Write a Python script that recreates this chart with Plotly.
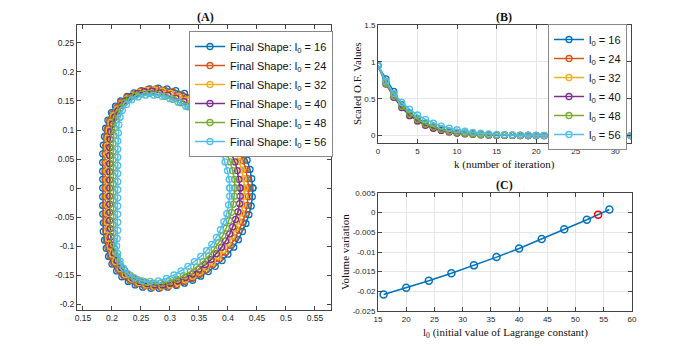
import plotly.graph_objects as go

# ---- data ----
l0_values = [16, 24, 32, 40, 48, 56]
colors = ['#0072BD', '#D95319', '#EDB120', '#7E2F8E', '#77AC30', '#4DBEEE']

# (A) final shapes, (x, y) points going counter-clockwise from the right side
shape_16 = [(0.443, 0.000), (0.441, 0.016), (0.438, 0.032), (0.433, 0.048), (0.427, 0.063), (0.420, 0.078),
            (0.412, 0.092), (0.403, 0.106), (0.392, 0.119), (0.380, 0.131), (0.367, 0.141), (0.354, 0.150),
            (0.340, 0.157), (0.325, 0.163), (0.310, 0.168), (0.295, 0.171), (0.280, 0.172), (0.265, 0.171),
            (0.251, 0.168), (0.238, 0.164), (0.226, 0.158), (0.215, 0.150), (0.206, 0.141), (0.199, 0.130),
            (0.193, 0.117), (0.189, 0.103), (0.187, 0.089), (0.185, 0.074), (0.184, 0.059), (0.184, 0.044),
            (0.184, 0.029), (0.184, 0.015), (0.184, 0.000), (0.184, -0.015), (0.184, -0.030), (0.184, -0.045),
            (0.185, -0.060), (0.185, -0.075), (0.187, -0.090), (0.190, -0.104), (0.194, -0.118), (0.200, -0.131),
            (0.208, -0.143), (0.217, -0.153), (0.228, -0.161), (0.240, -0.167), (0.253, -0.171), (0.267, -0.173),
            (0.281, -0.173), (0.296, -0.171), (0.311, -0.168), (0.325, -0.164), (0.339, -0.159), (0.353, -0.152),
            (0.366, -0.144), (0.378, -0.135), (0.390, -0.125), (0.400, -0.114), (0.410, -0.102), (0.418, -0.089),
            (0.425, -0.075), (0.431, -0.061), (0.436, -0.046), (0.440, -0.031), (0.442, -0.015), (0.443, 0.000)]
shape_24 = [(0.436, 0.000), (0.434, 0.016), (0.431, 0.032), (0.426, 0.047), (0.420, 0.062), (0.413, 0.077),
            (0.405, 0.091), (0.396, 0.104), (0.385, 0.117), (0.373, 0.129), (0.361, 0.139), (0.348, 0.148),
            (0.334, 0.155), (0.320, 0.161), (0.305, 0.166), (0.290, 0.169), (0.276, 0.171), (0.262, 0.170),
            (0.249, 0.167), (0.237, 0.162), (0.226, 0.156), (0.216, 0.148), (0.208, 0.139), (0.201, 0.128),
            (0.196, 0.116), (0.192, 0.102), (0.190, 0.088), (0.189, 0.073), (0.188, 0.059), (0.188, 0.044),
            (0.188, 0.029), (0.188, 0.015), (0.188, 0.000), (0.188, -0.015), (0.188, -0.030), (0.188, -0.045),
            (0.188, -0.059), (0.189, -0.074), (0.190, -0.089), (0.193, -0.103), (0.197, -0.117), (0.203, -0.130),
            (0.211, -0.141), (0.220, -0.151), (0.231, -0.159), (0.243, -0.165), (0.256, -0.169), (0.270, -0.171),
            (0.284, -0.171), (0.298, -0.169), (0.312, -0.166), (0.325, -0.161), (0.338, -0.156), (0.351, -0.149),
            (0.363, -0.141), (0.374, -0.132), (0.385, -0.122), (0.395, -0.111), (0.404, -0.099), (0.412, -0.086),
            (0.419, -0.073), (0.425, -0.059), (0.430, -0.045), (0.433, -0.030), (0.435, -0.015), (0.436, 0.000)]
shape_32 = [(0.429, 0.000), (0.427, 0.016), (0.424, 0.031), (0.419, 0.046), (0.413, 0.061), (0.406, 0.075),
            (0.398, 0.089), (0.389, 0.102), (0.378, 0.114), (0.367, 0.126), (0.355, 0.136), (0.342, 0.145),
            (0.329, 0.152), (0.315, 0.158), (0.301, 0.163), (0.287, 0.167), (0.273, 0.169), (0.259, 0.168),
            (0.247, 0.165), (0.236, 0.160), (0.226, 0.153), (0.217, 0.145), (0.209, 0.136), (0.203, 0.125),
            (0.198, 0.113), (0.195, 0.100), (0.193, 0.086), (0.192, 0.072), (0.192, 0.058), (0.192, 0.043),
            (0.192, 0.029), (0.192, 0.014), (0.192, 0.000), (0.192, -0.014), (0.192, -0.029), (0.192, -0.043),
            (0.192, -0.058), (0.193, -0.072), (0.194, -0.087), (0.197, -0.101), (0.201, -0.114), (0.206, -0.127),
            (0.214, -0.139), (0.223, -0.149), (0.234, -0.157), (0.246, -0.163), (0.259, -0.167), (0.272, -0.169),
            (0.286, -0.169), (0.300, -0.167), (0.313, -0.163), (0.326, -0.158), (0.339, -0.152), (0.351, -0.145),
            (0.362, -0.137), (0.373, -0.128), (0.383, -0.118), (0.392, -0.107), (0.400, -0.095), (0.407, -0.083),
            (0.413, -0.070), (0.418, -0.057), (0.423, -0.043), (0.426, -0.029), (0.428, -0.014), (0.429, 0.000)]
shape_40 = [(0.421, 0.000), (0.419, 0.015), (0.416, 0.030), (0.412, 0.045), (0.406, 0.060), (0.399, 0.074),
            (0.391, 0.088), (0.382, 0.100), (0.372, 0.112), (0.361, 0.123), (0.349, 0.133), (0.337, 0.142),
            (0.324, 0.149), (0.310, 0.155), (0.296, 0.160), (0.282, 0.164), (0.269, 0.167), (0.256, 0.166),
            (0.244, 0.163), (0.234, 0.158), (0.225, 0.151), (0.217, 0.143), (0.210, 0.133), (0.205, 0.122),
            (0.201, 0.110), (0.198, 0.097), (0.197, 0.084), (0.196, 0.070), (0.196, 0.056), (0.196, 0.042),
            (0.196, 0.028), (0.196, 0.014), (0.196, 0.000), (0.196, -0.014), (0.196, -0.028), (0.196, -0.042),
            (0.196, -0.056), (0.197, -0.070), (0.198, -0.084), (0.200, -0.098), (0.204, -0.112), (0.209, -0.125),
            (0.216, -0.137), (0.225, -0.147), (0.236, -0.155), (0.248, -0.161), (0.261, -0.165), (0.274, -0.167),
            (0.288, -0.167), (0.301, -0.164), (0.314, -0.160), (0.327, -0.154), (0.339, -0.148), (0.350, -0.140),
            (0.361, -0.132), (0.371, -0.123), (0.380, -0.113), (0.389, -0.102), (0.396, -0.091), (0.403, -0.079),
            (0.408, -0.067), (0.413, -0.054), (0.417, -0.041), (0.420, -0.027), (0.421, -0.014), (0.421, 0.000)]
shape_48 = [(0.412, 0.000), (0.411, 0.015), (0.408, 0.030), (0.404, 0.045), (0.398, 0.059), (0.392, 0.073),
            (0.384, 0.087), (0.375, 0.099), (0.365, 0.111), (0.355, 0.122), (0.344, 0.132), (0.331, 0.140),
            (0.318, 0.147), (0.305, 0.153), (0.291, 0.158), (0.278, 0.161), (0.264, 0.163), (0.251, 0.162),
            (0.240, 0.159), (0.230, 0.154), (0.222, 0.147), (0.215, 0.138), (0.210, 0.128), (0.206, 0.117),
            (0.204, 0.104), (0.203, 0.091), (0.202, 0.077), (0.202, 0.063), (0.202, 0.049), (0.202, 0.035),
            (0.202, 0.021), (0.202, 0.007), (0.202, -0.007), (0.202, -0.021), (0.202, -0.035), (0.202, -0.049),
            (0.202, -0.063), (0.202, -0.077), (0.203, -0.091), (0.205, -0.105), (0.209, -0.118), (0.214, -0.131),
            (0.222, -0.142), (0.232, -0.151), (0.244, -0.158), (0.257, -0.162), (0.270, -0.164), (0.284, -0.164),
            (0.298, -0.161), (0.311, -0.157), (0.323, -0.151), (0.335, -0.144), (0.346, -0.136), (0.357, -0.127),
            (0.367, -0.117), (0.376, -0.106), (0.384, -0.094), (0.391, -0.082), (0.397, -0.069), (0.402, -0.056),
            (0.406, -0.042), (0.409, -0.028), (0.411, -0.014), (0.412, 0.000)]
shape_56 = [(0.403, 0.000), (0.402, 0.015), (0.399, 0.030), (0.395, 0.045), (0.390, 0.059), (0.384, 0.073),
            (0.377, 0.086), (0.369, 0.099), (0.360, 0.111), (0.350, 0.122), (0.339, 0.132), (0.327, 0.141),
            (0.314, 0.148), (0.300, 0.154), (0.286, 0.158), (0.272, 0.160), (0.258, 0.160), (0.245, 0.157),
            (0.234, 0.152), (0.225, 0.144), (0.218, 0.134), (0.214, 0.122), (0.212, 0.109), (0.211, 0.095),
            (0.210, 0.081), (0.210, 0.067), (0.210, 0.053), (0.210, 0.039), (0.210, 0.025), (0.210, 0.011),
            (0.210, -0.003), (0.210, -0.017), (0.210, -0.031), (0.210, -0.045), (0.210, -0.059), (0.210, -0.073),
            (0.209, -0.087), (0.208, -0.100), (0.210, -0.113), (0.214, -0.126), (0.220, -0.138), (0.228, -0.148),
            (0.239, -0.155), (0.252, -0.160), (0.266, -0.161), (0.280, -0.160), (0.294, -0.156), (0.307, -0.150),
            (0.319, -0.143), (0.331, -0.135), (0.342, -0.127), (0.353, -0.118), (0.363, -0.108), (0.372, -0.097),
            (0.380, -0.085), (0.387, -0.072), (0.393, -0.058), (0.398, -0.044), (0.401, -0.029), (0.403, -0.014),
            (0.403, 0.000)]
shapes = [shape_16, shape_24, shape_32, shape_40, shape_48, shape_56]

# (B) scaled objective function values per iteration k = 0..32
k_iter = list(range(33))
of_16 = [0.95, 0.77, 0.60, 0.42, 0.31, 0.23, 0.17, 0.12, 0.09, 0.062, 0.045, 0.032, 0.023, 0.016, 0.011, 0.008,
         0.006, 0.004, 0.003, 0.002, 0.0015, 0.001, 0.001, 0.0008, 0.0006, 0.0005, 0.0004, 0.0003, 0.0003, 0.0002,
         0.0002, 0.0001, 0.0001]
of_24 = [0.95, 0.73, 0.56, 0.40, 0.29, 0.21, 0.15, 0.11, 0.08, 0.055, 0.040, 0.028, 0.020, 0.014, 0.010, 0.007,
         0.005, 0.003, 0.002, 0.002, 0.001, 0.001, 0.0008, 0.0006, 0.0005, 0.0004, 0.0003, 0.0002, 0.0002, 0.0002,
         0.0001, 0.0001, 0.0001]
of_32 = [0.95, 0.72, 0.54, 0.39, 0.28, 0.20, 0.145, 0.10, 0.075, 0.052, 0.036, 0.026, 0.018, 0.013, 0.009, 0.006,
         0.004, 0.003, 0.002, 0.0015, 0.001, 0.0008, 0.0006, 0.0005, 0.0004, 0.0003, 0.0002, 0.0002, 0.0001, 0.0001,
         0.0001, 0.0001, 0.0001]
of_40 = [0.95, 0.70, 0.52, 0.38, 0.27, 0.20, 0.14, 0.10, 0.07, 0.050, 0.035, 0.025, 0.018, 0.012, 0.009, 0.006,
         0.004, 0.003, 0.002, 0.0015, 0.001, 0.0008, 0.0006, 0.0005, 0.0004, 0.0003, 0.0002, 0.0002, 0.0001, 0.0001,
         0.0001, 0.0001, 0.0001]
of_48 = [0.95, 0.71, 0.54, 0.40, 0.30, 0.22, 0.16, 0.12, 0.085, 0.060, 0.045, 0.032, 0.023, 0.016, 0.011, 0.008,
         0.006, 0.004, 0.003, 0.002, 0.0015, 0.001, 0.0008, 0.0006, 0.0005, 0.0004, 0.0003, 0.0002, 0.0002, 0.0001,
         0.0001, 0.0001, 0.0001]
of_56 = [0.95, 0.74, 0.57, 0.45, 0.36, 0.28, 0.22, 0.17, 0.13, 0.10, 0.08, 0.06, 0.045, 0.034, 0.025, 0.018,
         0.013, 0.010, 0.007, 0.005, 0.004, 0.003, 0.002, 0.0015, 0.001, 0.001, 0.0008, 0.0006, 0.0005, 0.0004,
         0.0003, 0.0002, 0.0002]
of_series = [of_16, of_24, of_32, of_40, of_48, of_56]

# (C) volume variation vs l0
l0_scan = [16, 20, 24, 28, 32, 36, 40, 44, 48, 52, 56]
vol_var = [-0.0208, -0.0191, -0.0173, -0.0154, -0.0134, -0.0113, -0.0091, -0.0067, -0.0042, -0.0018, 0.0008]
l0_best = [54]
vol_best = [-0.0005]

# tick labels
a_xticks = [0.15, 0.2, 0.25, 0.3, 0.35, 0.4, 0.45, 0.5, 0.55]
a_xtext = ['0.15', '0.2', '0.25', '0.3', '0.35', '0.4', '0.45', '0.5', '0.55']
a_yticks = [-0.2, -0.15, -0.1, -0.05, 0, 0.05, 0.1, 0.15, 0.2, 0.25]
a_ytext = ['-0.2', '-0.15', '-0.1', '-0.05', '0', '0.05', '0.1', '0.15', '0.2', '0.25']
c_yticks = [-0.025, -0.02, -0.015, -0.01, -0.005, 0, 0.005]
c_ytext = ['-0.025', '-0.02', '-0.015', '-0.01', '-0.005', '0', '0.005']

# the page body keeps its default 8px margin, so the figure is sized to fit inside it
OFF = 8
W, H = 698 - 2 * OFF, 349 - 2 * OFF
SANS = 'Liberation Sans, Arial, sans-serif'
SERIF = 'Liberation Serif, Times New Roman, serif'
AX = '#444444'

fig = go.Figure()

for l0, pts, c in zip(l0_values, shapes, colors):
    xs = [p[0] for p in pts]
    ys = [p[1] for p in pts]
    fig.add_trace(go.Scatter(x=xs, y=ys, mode='lines+markers', xaxis='x', yaxis='y',
                             name=f'Final Shape: l<sub>0</sub> = {l0}', legend='legend',
                             line=dict(color=c, width=1.5),
                             marker=dict(symbol='circle-open', size=6, color=c, line=dict(width=1.3))))

for l0, vals, c in zip(l0_values, of_series, colors):
    fig.add_trace(go.Scatter(x=k_iter, y=vals, mode='lines+markers', xaxis='x2', yaxis='y2',
                             name=f'l<sub>0</sub> = {l0}', legend='legend2',
                             line=dict(color=c, width=1.5),
                             marker=dict(symbol='circle-open', size=6, color=c, line=dict(width=1.3))))

fig.add_trace(go.Scatter(x=l0_scan, y=vol_var, mode='lines+markers', xaxis='x3', yaxis='y3',
                         showlegend=False, line=dict(color=colors[0], width=1.5),
                         marker=dict(symbol='circle-open', size=7, color=colors[0], line=dict(width=1.5))))
fig.add_trace(go.Scatter(x=l0_best, y=vol_best, mode='markers', xaxis='x3', yaxis='y3',
                         showlegend=False,
                         marker=dict(symbol='circle-open', size=7, color='#FF0000', line=dict(width=1.5))))


def fx(px):
    return (px - OFF) / W


def fy(py):
    return 1 - (py - OFF) / H


base_axis = dict(showline=True, mirror='ticks', linecolor=AX, linewidth=1, ticks='inside',
                 ticklen=4, tickcolor=AX, tickfont=dict(family=SANS, size=8, color='#262626'),
                 zeroline=False, automargin=False)

fig.update_layout(
    width=W, height=H, margin=dict(l=0, r=0, t=0, b=0, autoexpand=False),
    paper_bgcolor='white', plot_bgcolor='white',
    xaxis=dict(base_axis, domain=[fx(77), fx(331)], range=[0.1397, 0.5776], anchor='y',
               tickvals=a_xticks, ticktext=a_xtext, showgrid=False,
               tickfont=dict(family=SANS, size=8.5, color='#262626')),
    yaxis=dict(base_axis, domain=[fy(310), fy(25)], range=[-0.2103, 0.281], anchor='x',
               tickvals=a_yticks, ticktext=a_ytext, showgrid=False,
               tickfont=dict(family=SANS, size=8.5, color='#262626')),
    xaxis2=dict(base_axis, domain=[fx(378), fx(631)], range=[0, 32], anchor='y2',
                dtick=5, showgrid=True, gridcolor='#E6E6E6'),
    yaxis2=dict(base_axis, domain=[fy(143), fy(25)], range=[-0.1, 1.5], anchor='x2',
                tickvals=[0, 0.5, 1, 1.5], ticktext=['0', '0.5', '1', '1.5'],
                showgrid=True, gridcolor='#E6E6E6'),
    xaxis3=dict(base_axis, domain=[fx(378), fx(632)], range=[15, 60], anchor='y3',
                dtick=5, showgrid=True, gridcolor='#E6E6E6'),
    yaxis3=dict(base_axis, domain=[fy(311), fy(193)], range=[-0.025, 0.005], anchor='x3',
                tickvals=c_yticks, ticktext=c_ytext, showgrid=True, gridcolor='#E6E6E6'),
    legend=dict(x=fx(261), y=fy(31), xanchor='center', yanchor='top',
                bgcolor='white', bordercolor='#888888', borderwidth=1,
                font=dict(family=SANS, size=11, color='#111111'),
                itemwidth=30, tracegroupgap=0),
    legend2=dict(x=fx(627), y=fy(24), xanchor='right', yanchor='top',
                 bgcolor='white', bordercolor='#888888', borderwidth=1,
                 font=dict(family=SANS, size=11, color='#111111'),
                 itemwidth=30, tracegroupgap=0),
    showlegend=True,
)

titles = [('<b>(A)</b>', 205, 17), ('<b>(B)</b>', 504, 17), ('<b>(C)</b>', 504, 185)]
for txt, x, y in titles:
    fig.add_annotation(text=txt, x=fx(x), y=fy(y), xref='paper', yref='paper',
                       xanchor='center', yanchor='middle', showarrow=False,
                       font=dict(family=SERIF, size=12, color='#111111'))

labels = [
    ('k (number of iteration)', 504, 164, 0),
    ('l<sub>0</sub> (initial value of Lagrange constant)', 505, 333, 0),
    ('Scaled O.F. Values', 357, 84, -90),
    ('Volume variation', 345, 252, -90),
]
for txt, x, y, ang in labels:
    fig.add_annotation(text=txt, x=fx(x), y=fy(y), xref='paper', yref='paper',
                       xanchor='center', yanchor='middle', showarrow=False, textangle=ang,
                       font=dict(family=SERIF, size=11, color='#111111'))

fig.write_html("out.html")
